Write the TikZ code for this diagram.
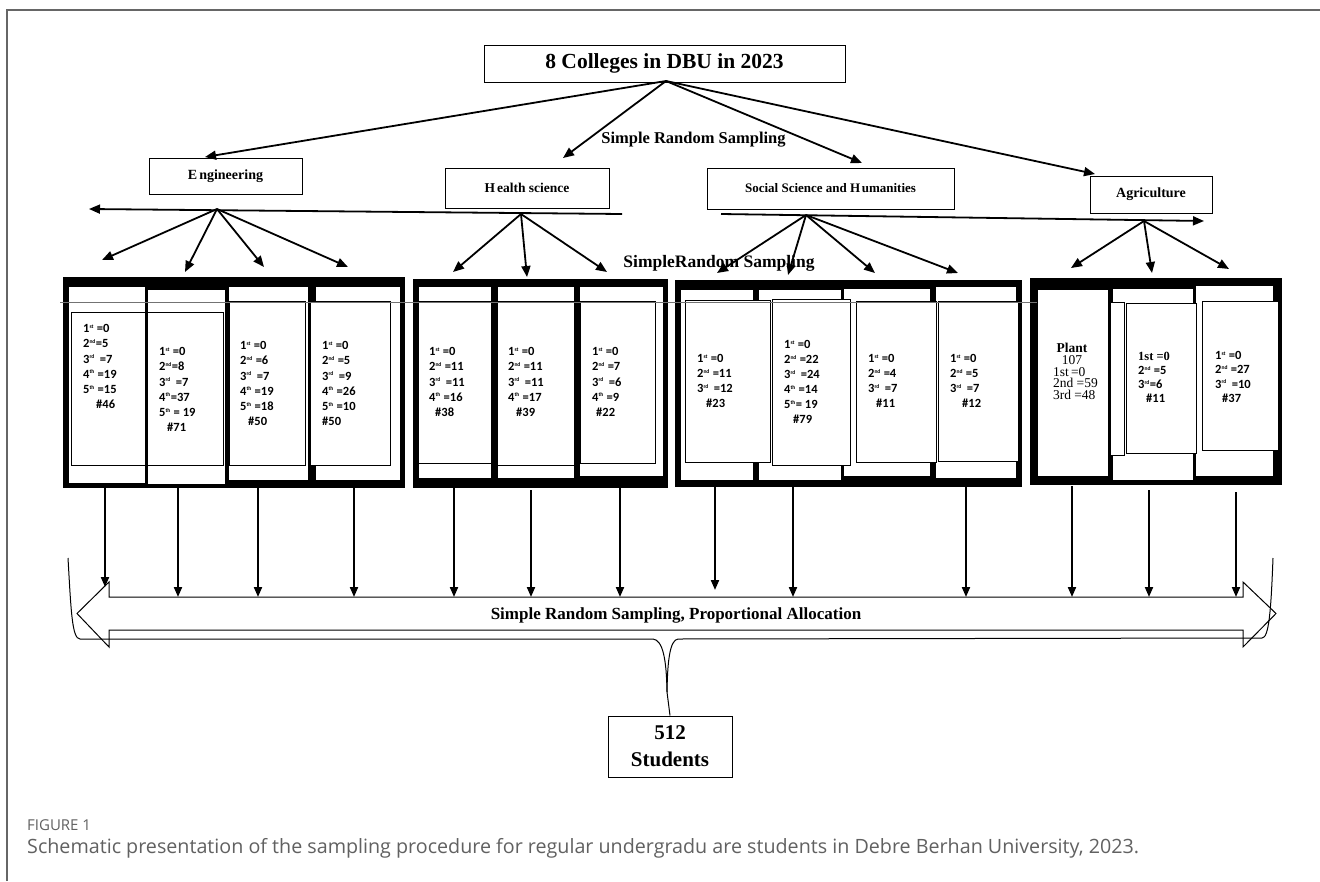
\documentclass[tikz,border=0pt]{standalone}
\usepackage{fontspec}
\setmainfont{Liberation Serif}
\newfontfamily\colfont{Carlito}
\newfontfamily\capfont{Open Sans}
\usetikzlibrary{arrows.meta}
\newcommand\supo[1]{\textsuperscript{\fontsize{5.5}{5.5}\selectfont #1}}
\begin{document}
\begin{tikzpicture}[x=1pt,y=-1pt,
  hbox/.style={draw,line width=1pt,inner sep=0pt,fill=white},
  arr/.style={-{Triangle[length=11pt,width=9pt]},line width=1.8pt},
  varr/.style={-{Triangle[length=10pt,width=8pt]},line width=2pt},
  colw/.style={draw,line width=0.8pt,fill=white},
  thinr/.style={draw,line width=0.9pt},
  thinf/.style={draw,line width=0.9pt,fill=white},
  coltxt/.style={anchor=north west,align=left,inner sep=0pt,font=\colfont\bfseries\fontsize{12.5}{15.3}\selectfont},
  lbl/.style={inner sep=0pt,font=\bfseries\fontsize{17}{20}\selectfont},
  grp/.style={fill=black}
]
\useasboundingbox (0,0) rectangle (1320,881);
\fill[white] (0,0) rectangle (1320,881);
% frame
\draw[line width=1.3pt,black!60] (7,881) -- (7,10) -- (1320,10);

% ---------- top level ----------
\node[hbox,minimum width=361pt,minimum height=37pt,font=\bfseries\fontsize{21.5}{24}\selectfont] (top) at (664.5,63.5) {8 Colleges in DBU in 2023};
\node[hbox,minimum width=153pt,minimum height=36pt,font=\bfseries\fontsize{14}{16}\selectfont] (eng) at (225.5,176) {E\kern2pt ngineering};
\node[hbox,minimum width=164pt,minimum height=40pt,font=\bfseries\fontsize{13.5}{16}\selectfont] (hs) at (527,188) {H\kern2pt ealth science};
\node[hbox,minimum width=247pt,minimum height=41pt,font=\bfseries\fontsize{13}{16}\selectfont] (ssh) at (830.5,188.5) {Social Science and H\kern1.5pt umanities};
\node[hbox,minimum width=122pt,minimum height=37pt,font=\bfseries\fontsize{14}{16}\selectfont] (agri) at (1151,194.5) {Agriculture};

\node[lbl,font=\bfseries\fontsize{16.5}{20}\selectfont] (srs1) at (693.5,140) {Simple Random Sampling};
\node[lbl,font=\bfseries\fontsize{17.5}{20}\selectfont] (srs2) at (719,263) {SimpleRandom Sampling};

\coordinate (o) at (666,81);
\coordinate (tEng) at (205,157);
\coordinate (tHs) at (563,158);
\coordinate (tSsh) at (862,163);
\coordinate (tAgri) at (1095,174);
\draw[arr] (o) -- (tEng);
\draw[arr] (o) -- (tHs);
\draw[arr] (o) -- (tSsh);
\draw[arr] (o) -- (tAgri);

% long horizontal arrows
\coordinate (hlA) at (622,214);
\coordinate (hlB) at (89,209);
\coordinate (hrA) at (721,214);
\coordinate (hrB) at (1204,221);
\draw[arr] (hlA) -- (hlB);
\draw[arr] (hrA) -- (hrB);

% fans
\coordinate (fEng) at (217,209);
\coordinate (fHs) at (521,214);
\coordinate (fSsh) at (806,215);
\coordinate (fAgri) at (1144,221);
\foreach \p in {(102,260),(185,272),(264,267),(348,267)}
  \draw[arr] (fEng) -- \p;
\foreach \p in {(453,272),(527,277),(607,272)}
  \draw[arr] (fHs) -- \p;
\foreach \p in {(717,273),(788,275),(875,273),(958,273)}
  \draw[arr] (fSsh) -- \p;
\foreach \p in {(1071,268),(1152,273),(1229,269)}
  \draw[arr] (fAgri) -- \p;

% ---------- group 1 ----------
\fill[grp] (63,277) rectangle (405,488);
\draw[colw] (68.3,286.7) rectangle (145,483.3);
\draw[colw] (147.3,289.3) rectangle (225.7,484);
\draw[colw] (228.3,286) rectangle (308.3,480.7);
\draw[colw] (315,286) rectangle (400,480.7);
\draw[thinr] (71.7,312.7) rectangle (223.3,465);
\fill[black] (145,289) rectangle (147.3,484);
\draw[thinf] (229,301.7) rectangle (305,465);
\draw[thinf] (310,301.7) rectangle (390.7,465);

% ---------- group 2 ----------
\fill[grp] (412.7,279.3) rectangle (668.3,488.3);
\draw[colw] (418.3,286.7) rectangle (491.7,478.3);
\draw[colw] (497.3,286.7) rectangle (574,478.3);
\draw[colw] (579.3,286.7) rectangle (663.3,476.7);
\draw[thinr] (418.3,301.7) rectangle (491.7,463.3);
\draw[thinr] (497.3,301.7) rectangle (574,465);
\draw[thinr] (580,301.7) rectangle (655,463.3);

% ---------- group 3 ----------
\fill[grp] (675,280) rectangle (1021.7,486.7);
\draw[colw] (680.7,289.3) rectangle (753.3,480);
\draw[colw] (758.3,289.3) rectangle (841.7,480);
\draw[colw] (843.3,288.3) rectangle (930,476.7);
\draw[colw] (935,286.7) rectangle (1016.7,478.3);
\draw[thinf] (685,300.7) rectangle (770,462.7);
\draw[thinf] (772.7,299.3) rectangle (850,465);
\draw[thinf] (856,301.7) rectangle (936,462.7);
\draw[thinf] (938.3,301.7) rectangle (1018.3,461.7);

% ---------- group 4 ----------
\fill[grp] (1030,278.3) rectangle (1281.7,485);
\draw[colw] (1037.7,289) rectangle (1108.3,476.7);
\draw[colw] (1112.3,288.3) rectangle (1193.3,480);
\draw[colw] (1195,285) rectangle (1273.3,476.7);
\draw[thinf] (1110,302.3) rectangle (1124.3,455);
\draw[thinf] (1126.7,303.3) rectangle (1196.7,453.3);
\draw[thinf] (1202.7,301.7) rectangle (1278.3,450);

% gray line across
\draw[black!55,line width=0.8pt] (60,302) -- (1037,302);

% ---------- column texts ----------
\node[coltxt] (g1c1) at (83,324) {1\supo{st} =0\\2\supo{nd}=5\\3\supo{rd} \,=7\\4\supo{th} =19\\5\supo{th} =15\\\hspace*{13pt}\#46};
\node[coltxt] (g1c2) at (159,347) {1\supo{st} =0\\2\supo{nd}=8\\3\supo{rd} \,=7\\4\supo{th}=37\\5\supo{th} = 19\\\hspace*{8pt}\#71};
\node[coltxt] (g1c3) at (240,341) {1\supo{st} =0\\2\supo{nd} =6\\3\supo{rd} \,=7\\4\supo{th} =19\\5\supo{th} =18\\\hspace*{8pt}\#50};
\node[coltxt] (g1c4) at (322,341) {1\supo{st} =0\\2\supo{nd} =5\\3\supo{rd} \,=9\\4\supo{th} =26\\5\supo{th} =10\\\#50};

\node[coltxt] (g2c1) at (429,347) {1\supo{st} =0\\2\supo{nd} =11\\3\supo{rd} \,=11\\4\supo{th} =16\\\hspace*{6pt}\#38};
\node[coltxt] (g2c2) at (508,347) {1\supo{st} =0\\2\supo{nd} =11\\3\supo{rd} \,=11\\4\supo{th} =17\\\hspace*{8pt}\#39};
\node[coltxt] (g2c3) at (592,347) {1\supo{st} =0\\2\supo{nd} =7\\3\supo{rd} \,=6\\4\supo{th} =9\\\hspace*{4pt}\#22};

\node[coltxt,font=\colfont\bfseries\fontsize{12.5}{15.1}\selectfont] (g3c1) at (697,354) {1\supo{st} =0\\2\supo{nd} =11\\3\supo{rd} \,=12\\\hspace*{9pt}\#23};
\node[coltxt,font=\colfont\bfseries\fontsize{12.5}{15}\selectfont] (g3c2) at (784,340) {1\supo{st} =0\\2\supo{nd} =22\\3\supo{rd} \,=24\\4\supo{th} =14\\5\supo{th}= 19\\\hspace*{9pt}\#79};
\node[coltxt,font=\colfont\bfseries\fontsize{12.5}{15.1}\selectfont] (g3c3) at (868,354) {1\supo{st} =0\\2\supo{nd} =4\\3\supo{rd} \,=7\\\hspace*{8pt}\#11};
\node[coltxt,font=\colfont\bfseries\fontsize{12.5}{15.1}\selectfont] (g3c4) at (950,354) {1\supo{st} =0\\2\supo{nd} =5\\3\supo{rd} \,=7\\\hspace*{12pt}\#12};

\node[anchor=north,align=center,inner sep=0pt,font=\fontsize{13.5}{11.8}\selectfont] (g4c1) at (1072,343) {\textbf{Plant}\\107\\\makebox[38pt][l]{1st\,=0}\\\makebox[38pt][l]{2nd =59}\\\makebox[38pt][l]{3rd =48}};
\node[coltxt,font=\colfont\bfseries\fontsize{12.5}{14}\selectfont] (g4c2) at (1138,352) {{\rmfamily 1st =0}\\2\supo{nd} =5\\3\supo{rd}=6\\\hspace*{8pt}\#11};
\node[coltxt,font=\colfont\bfseries\fontsize{12.5}{14.3}\selectfont] (g4c3) at (1215,351) {1\supo{st} =0\\2\supo{nd} =27\\3\supo{rd} \,=10\\\hspace*{7pt}\#37};

% ---------- bottom double arrow ----------
\draw[line width=1pt,fill=white] (109,597) -- (109,582) -- (77,613.5) -- (109,647) -- (109,630) -- (1243,630) -- (1243,647) -- (1276,613.5) -- (1243,582) -- (1243,597) -- cycle;
\node[lbl,font=\bfseries\fontsize{17}{20}\selectfont] (sra) at (676,615) {Simple Random Sampling, Proportional Allocation};

% vertical arrows
\foreach \i/\x/\ya/\yb in {1/105/488/587,2/178/488/597,3/258/488/597,4/354/488/597,5/454/488/597,6/531/490/597,7/620/488/597,8/715/487/590,9/793/487/597,10/966/487/597,11/1072/486/597,12/1149/490/597,13/1236/492/597}{
  \coordinate (v\i) at (\x,\ya);
  \coordinate (w\i) at (\x,\yb);
  \draw[varr] (v\i) -- (w\i);
}

% brace
\node[hbox,minimum width=124pt,minimum height=61pt,align=center,font=\bfseries\fontsize{21}{27}\selectfont] (stud) at (670,746.5) {512\\Students};
\coordinate (dip) at (667,692);
\draw[line width=1pt] (68,558) .. controls (71,610) and (72,639) .. (80,639) -- (653,639) .. controls (663,640) and (666.5,660) .. (dip);
\draw[line width=1pt] (1273,558) .. controls (1271,610) and (1269,638) .. (1262,638) -- (678,639) .. controls (670,640) and (667.5,660) .. (dip);
\draw[line width=1pt] (dip) -- (stud.north);

% caption
\node[anchor=west,inner sep=0pt,text=black!62,font=\capfont\fontsize{15}{17}\selectfont] (fig) at (27,825) {FIGURE 1};
\node[anchor=west,inner sep=0pt,text=black!62,font=\capfont\fontsize{19.7}{22}\selectfont] (cap) at (27,848) {Schematic presentation of the sampling procedure for regular undergradu are students in Debre Berhan University, 2023.};
\end{tikzpicture}
\end{document}
